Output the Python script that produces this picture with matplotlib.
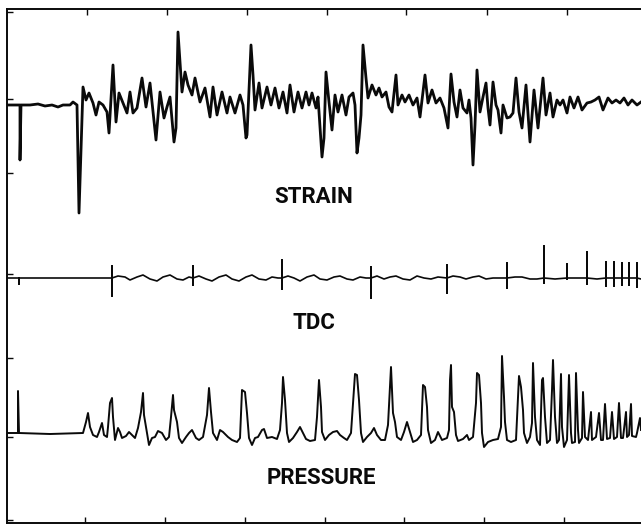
import matplotlib
matplotlib.use("Agg")
import matplotlib.pyplot as plt

# ---------------- data (chart units: x = time, y = trace deflection, screen-like) -------------
strain_x = [7, 20, 20, 21, 30, 38, 45, 52, 58, 63, 70, 73, 77, 79, 83, 86, 89, 93, 96, 99, 103, 107,
            109, 113, 116, 119, 123, 127, 130, 133, 137, 142, 146, 150, 156, 160, 164, 167, 170, 174,
            176, 178, 182, 185, 188, 192, 195, 200, 205, 210, 213, 217, 222, 227, 230, 235, 240, 243,
            246, 247, 251, 253, 255, 259, 262, 267, 271, 275, 279, 283, 287, 290, 294, 298, 302, 306,
            309, 312, 316, 318, 322, 324, 326, 329, 332, 335, 338, 342, 346, 349, 353, 355, 357, 359,
            361, 363, 366, 368, 372, 376, 379, 382, 386, 389, 392, 396, 398, 402, 405, 409, 413, 417,
            420, 425, 428, 432, 436, 440, 444, 448, 451, 454, 457, 460, 463, 467, 469, 471, 473, 475,
            477, 480, 483, 486, 488, 490, 493, 496, 498, 501, 503, 507, 510, 513, 516, 519, 522, 526,
            530, 534, 538, 543, 546, 550, 553, 557, 560, 563, 567, 570, 574, 578, 582, 587, 591, 595,
            599, 603, 608, 612, 616, 620, 624, 628, 632, 637, 641]
strain_y = [105, 105, 160, 105, 105, 104, 106, 105, 107, 105, 105, 102, 105, 213, 87, 100, 93, 103, 115,
            102, 105, 112, 133, 65, 122, 93, 103, 113, 92, 113, 108, 78, 107, 83, 140, 92, 118, 107, 97,
            142, 128, 32, 92, 72, 85, 95, 78, 102, 88, 117, 87, 115, 92, 113, 97, 113, 95, 105, 138, 135,
            45, 75, 110, 83, 108, 87, 105, 88, 108, 92, 113, 85, 112, 92, 108, 92, 105, 93, 108, 97, 157,
            138, 72, 102, 130, 95, 112, 95, 115, 97, 93, 105, 153, 138, 115, 45, 78, 98, 85, 95, 88, 97,
            92, 107, 112, 75, 105, 95, 102, 95, 105, 98, 117, 75, 103, 90, 103, 98, 108, 128, 74, 102,
            117, 90, 108, 113, 100, 118, 165, 125, 70, 112, 97, 83, 108, 125, 82, 105, 110, 133, 105, 118,
            117, 113, 78, 112, 128, 85, 142, 90, 128, 78, 115, 93, 117, 100, 105, 100, 113, 97, 108, 97,
            110, 103, 102, 100, 97, 110, 98, 103, 100, 103, 98, 105, 100, 105, 102]

tdc_base_x = [7, 30, 60, 90, 112, 118, 125, 130, 137, 143, 150, 157, 163, 170, 177, 183, 189, 193,
              199, 206, 212, 219, 226, 232, 239, 246, 252, 259, 266, 272, 278, 282, 288, 294, 300,
              307, 314, 320, 327, 334, 340, 347, 353, 360, 366, 371, 377, 384, 390, 396, 403, 410,
              417, 424, 431, 438, 447, 453, 460, 466, 473, 479, 486, 493, 500, 507, 515, 522, 530,
              537, 544, 555, 567, 577, 587, 597, 606, 614, 622, 629, 637, 641]
tdc_base_y = [278, 278, 278, 278, 278, 276, 277, 280, 277, 275, 279, 281, 277, 275, 279, 280, 277, 278,
              276, 279, 281, 277, 275, 279, 281, 277, 275, 279, 280, 277, 278, 278, 276, 278, 281,
              277, 275, 279, 280, 277, 276, 279, 280, 277, 278, 278, 276, 279, 277, 276, 279, 280,
              276, 278, 279, 277, 278, 276, 277, 279, 277, 276, 279, 278, 278, 278, 277, 277, 279,
              279, 278, 279, 278, 278, 278, 279, 278, 278, 278, 278, 278, 279]
tdc_spike_x = [19, 112, 193, 282, 371, 447, 507, 544, 567, 587, 606, 614, 622, 629, 637]
tdc_spike_top = [278, 266, 266, 260, 267, 265, 263, 246, 264, 252, 262, 262, 263, 263, 263]
tdc_spike_bottom = [284, 296, 285, 289, 298, 293, 288, 283, 279, 284, 286, 286, 285, 285, 287]
tdc_level = 278

pressure_x = [7, 18, 18, 19, 50, 83, 86, 88, 90, 93, 97, 99, 102, 104, 107, 108, 110, 112, 113, 115,
              118, 120, 122, 126, 129, 132, 135, 138, 141, 143, 144, 147, 149, 152, 155, 158, 162,
              166, 169, 171, 173, 174, 177, 179, 182, 186, 189, 192, 196, 199, 203, 207, 209, 211,
              213, 217, 220, 223, 228, 232, 237, 240, 242, 245, 247, 249, 252, 255, 258, 262, 264,
              267, 272, 277, 280, 282, 283, 285, 287, 289, 293, 297, 300, 303, 306, 310, 315, 317,
              319, 321, 322, 325, 329, 333, 337, 340, 344, 347, 351, 353, 355, 357, 359, 361, 363,
              367, 371, 374, 377, 381, 385, 388, 391, 393, 395, 397, 401, 404, 407, 410, 413, 417,
              421, 423, 425, 427, 428, 431, 435, 438, 442, 447, 449, 450, 451, 452, 454, 456, 458,
              463, 467, 469, 473, 476, 477, 479, 481, 482, 484, 488, 493, 498, 501, 502, 504, 505,
              507, 511, 516, 519, 521, 523, 524, 527, 530, 532, 533, 535, 537, 540, 542, 543, 545,
              547, 550, 552, 553, 555, 557, 559, 561, 562, 564, 567, 569, 571, 572, 575, 576, 578,
              579, 582, 583, 585, 588, 591, 592, 596, 599, 601, 603, 605, 607, 610, 612, 614, 617,
              619, 621, 623, 626, 627, 629, 631, 632, 636, 637, 640, 641]
pressure_y = [433, 433, 391, 433, 434, 433, 422, 413, 427, 435, 437, 432, 423, 435, 437, 427, 403, 398,
              417, 440, 428, 432, 438, 436, 432, 435, 438, 428, 412, 393, 415, 433, 445, 438, 437,
              431, 433, 440, 437, 417, 395, 410, 422, 438, 443, 437, 433, 430, 438, 440, 437, 415,
              388, 412, 433, 440, 430, 432, 437, 440, 442, 438, 390, 392, 413, 438, 445, 438, 437,
              430, 429, 438, 437, 439, 430, 403, 377, 400, 433, 442, 438, 432, 427, 433, 439, 441,
              440, 417, 380, 407, 432, 440, 435, 432, 431, 435, 438, 440, 433, 403, 374, 375, 400,
              433, 442, 437, 433, 428, 435, 440, 440, 425, 367, 413, 422, 437, 440, 432, 422, 432,
              442, 440, 435, 385, 387, 407, 430, 443, 440, 432, 440, 438, 430, 380, 365, 407, 412,
              435, 441, 439, 435, 440, 437, 403, 373, 375, 403, 433, 447, 442, 440, 439, 427, 356,
              397, 422, 440, 442, 440, 376, 387, 410, 433, 443, 437, 423, 363, 417, 440, 445, 380,
              378, 417, 443, 440, 390, 360, 417, 443, 440, 374, 427, 447, 440, 375, 433, 443, 442,
              373, 430, 443, 438, 392, 437, 440, 412, 440, 437, 413, 440, 440, 404, 439, 438, 412,
              439, 437, 403, 438, 438, 412, 437, 435, 404, 436, 437, 433, 418, 430]

labels = ["STRAIN", "TDC", "PRESSURE"]
label_x = [314, 314, 321]
label_y = [197, 323, 478]

top_ticks = [87, 167, 247, 327, 406, 487, 567]
bottom_ticks = [85, 165, 245, 325, 404, 484, 564]
left_ticks = [12, 99, 173, 274, 358, 437, 520]

# ---------------- build the TDC trace: baseline wiggle with marker spikes ----------------
tdc_x, tdc_y = [], []
si = 0
for bx, by in zip(tdc_base_x, tdc_base_y):
    while si < len(tdc_spike_x) and tdc_spike_x[si] <= bx:
        sx = tdc_spike_x[si]
        tdc_x += [sx, sx, sx, sx]
        tdc_y += [tdc_level, tdc_spike_top[si], tdc_spike_bottom[si], tdc_level]
        si += 1
    tdc_x.append(bx)
    tdc_y.append(by)

# ---------------- figure ----------------
W, H = 641, 526
fig = plt.figure(figsize=(W / 100, H / 100), dpi=100)
fig.patch.set_facecolor("white")
ax = fig.add_axes([7 / W, 3 / H, 1 - 7 / W, (523 - 9) / H])
ax.set_xlim(7, 641)
ax.set_ylim(523, 9)

ink = "#0a0a0a"
ax.plot(strain_x, strain_y, color=ink, lw=2.0)
ax.plot(tdc_x, tdc_y, color=ink, lw=1.2)
ax.plot(pressure_x, pressure_y, color=ink, lw=1.4)

fam = ["Roboto", "DejaVu Sans"]
for t, x, y in zip(labels, label_x, label_y):
    ax.text(x, y, t, ha="center", va="center", fontsize=16, fontweight="bold",
            family=fam, color=ink)

for s in ["left", "top", "bottom"]:
    ax.spines[s].set_linewidth(1.4)
    ax.spines[s].set_color(ink)
ax.spines["right"].set_visible(False)

ax.set_xticks(bottom_ticks)
ax.set_yticks(left_ticks)
ax.tick_params(axis="x", direction="in", length=4, width=1, colors=ink,
               labelbottom=False, top=False)
ax.tick_params(axis="y", direction="in", length=4, width=1, colors=ink, labelleft=False)
sec = ax.secondary_xaxis("top")
sec.set_xticks(top_ticks)
sec.tick_params(direction="in", length=4, width=1, colors=ink, labeltop=False)
sec.spines["top"].set_visible(False)

fig.savefig("out.png", dpi=100, facecolor="white")
